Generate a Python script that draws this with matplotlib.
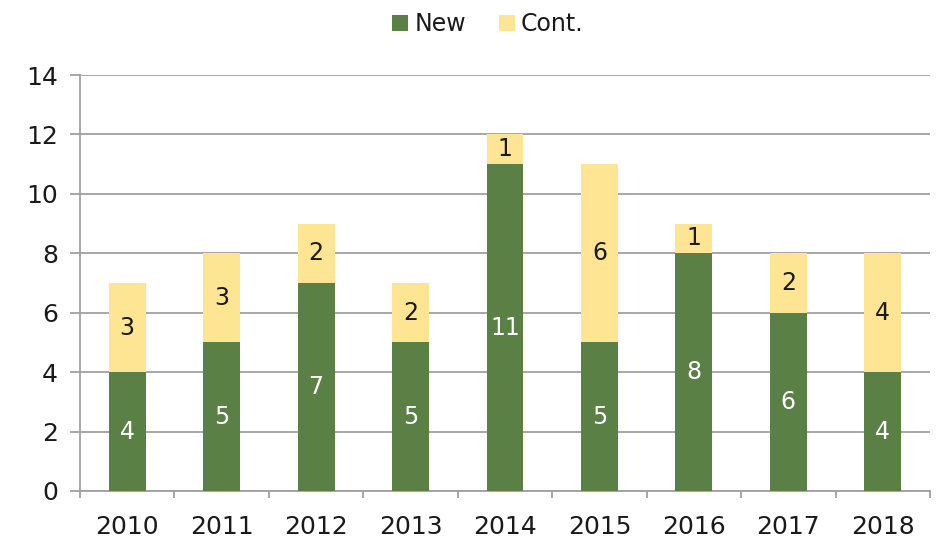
import matplotlib.pyplot as plt
import numpy as np

years = ["2010", "2011", "2012", "2013", "2014", "2015", "2016", "2017", "2018"]
new_vals = [4, 5, 7, 5, 11, 5, 8, 6, 4]
cont_vals = [3, 3, 2, 2, 1, 6, 1, 2, 4]
y_ticks = [0, 2, 4, 6, 8, 10, 12, 14]

green = "#5b8045"
yellow = "#fde594"
grid_col = "#a0a0a0"
text_col = "#1a1a1a"

plt.rcParams['font.family'] = ['DejaVu Sans']

fig = plt.figure(figsize=(9.38, 5.39), dpi=100)
ax = fig.add_axes([80 / 938, 1 - 491 / 539, 850 / 938, 416 / 539])

x = np.arange(len(years))
w = 0.39
b1 = ax.bar(x, new_vals, width=w, color=green, label="New", zorder=3)
b2 = ax.bar(x, cont_vals, width=w, bottom=new_vals, color=yellow, label="Cont.", zorder=3)

for xi, n, c in zip(x, new_vals, cont_vals):
    ax.text(xi, n / 2, str(n), ha="center", va="center", color="white", fontsize=17, zorder=4)
    ax.text(xi, n + c / 2, str(c), ha="center", va="center", color=text_col, fontsize=17, zorder=4)

ax.set_xlim(-0.5, len(years) - 0.5)
ax.set_ylim(0, 14)
ax.set_yticks(y_ticks)
ax.set_yticklabels([str(t) for t in y_ticks], fontsize=18, color=text_col)
ax.yaxis.grid(True, color=grid_col, linewidth=1.3, zorder=0)
ax.set_axisbelow(True)

# category labels centred, boundary ticks between categories
ax.set_xticks(x)
ax.set_xticklabels(years, fontsize=18, color=text_col)
ax.tick_params(axis="x", which="major", length=0, pad=17)
ax.set_xticks(np.arange(-0.5, len(years)), minor=True)
ax.tick_params(axis="x", which="minor", length=5, color=grid_col, width=1.3, direction="out")
ax.tick_params(axis="y", length=7, color=grid_col, width=1.3, pad=9)

for s in ["top", "right"]:
    ax.spines[s].set_visible(False)
for s in ["left", "bottom"]:
    ax.spines[s].set_color(grid_col)
    ax.spines[s].set_linewidth(1.3)

leg = fig.legend(handles=[b1, b2], labels=["New", "Cont."], loc="center",
                 bbox_to_anchor=(488 / 938, 1 - 24 / 539), ncol=2, frameon=False, fontsize=17,
                 handlelength=0.68, handleheight=0.68, handletextpad=0.25, columnspacing=1.4,
                 labelcolor=text_col, borderpad=0, borderaxespad=0)

fig.savefig("out.png", dpi=100)
